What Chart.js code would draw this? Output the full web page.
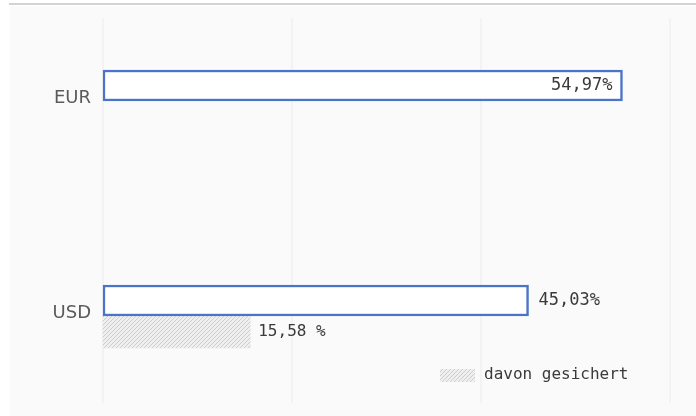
<!DOCTYPE html>
<html><head><meta charset="utf-8">
<script src="https://cdn.jsdelivr.net/npm/chart.js@4"></script>
<style>
html,body{margin:0;padding:0;background:#fff;width:696px;height:416px;overflow:hidden}
#wrap{position:relative;width:696px;height:416px}
#topline{position:absolute;left:9px;top:3px;width:687px;height:2px;background:#d3d3d3}
#panel{position:absolute;left:10px;top:6px;right:0;bottom:0;background:#fafafa}
canvas{position:absolute;left:0;top:0}
</style></head><body>
<div id="wrap"><div id="topline"></div><div id="panel"></div><canvas id="c" width="696" height="416"></canvas></div>
<script>
const categories = ['EUR', 'USD'];
const shareValues = [54.97, 45.03];
const hedgedValues = [null, 15.58];
const seriesNames = ['Anteil', 'davon gesichert'];
const labelSuffixes = ['%', ' %'];
const xMin = 0, xMax = 60, xStep = 20;

function makeHatch() {
  const c = document.createElement('canvas');
  c.width = 4; c.height = 4;
  const g = c.getContext('2d');
  g.fillStyle = '#efefef'; g.fillRect(0, 0, 4, 4);
  g.strokeStyle = '#cdcdcd'; g.lineWidth = 1;
  g.beginPath();
  g.moveTo(-1, 5); g.lineTo(5, -1);
  g.moveTo(-1, 1); g.lineTo(1, -1);
  g.moveTo(3, 5); g.lineTo(5, 3);
  g.stroke();
  return g.createPattern(c, 'repeat');
}
const hatch = makeHatch();

const gridPlugin = {
  id: 'panelGrid',
  beforeDatasetsDraw(chart) {
    const xs = chart.scales.x, ctx = chart.ctx;
    ctx.save();
    ctx.strokeStyle = '#f3f3f3';
    ctx.lineWidth = 2;
    xs.ticks.forEach(t => {
      const px = Math.round(xs.getPixelForValue(t.value));
      ctx.beginPath(); ctx.moveTo(px, 18); ctx.lineTo(px, 403); ctx.stroke();
    });
    ctx.restore();
  }
};

const valueLabelPlugin = {
  id: 'valueLabels',
  afterDatasetsDraw(chart) {
    const ctx = chart.ctx, area = chart.chartArea;
    ctx.save();
    chart.data.datasets.forEach((ds, di) => {
      const meta = chart.getDatasetMeta(di);
      const size = di === 0 ? 17 : 16;
      ctx.font = size + 'px "DejaVu Sans Mono", monospace';
      ctx.fillStyle = '#3a3a3a';
      ctx.textBaseline = 'middle';
      meta.data.forEach((bar, i) => {
        const v = ds.data[i];
        if (v === null || v === undefined) return;
        const txt = v.toFixed(2).replace('.', ',') + labelSuffixes[di];
        const w = ctx.measureText(txt).width;
        if (bar.x + 10 + w > area.right) {
          ctx.textAlign = 'right';
          ctx.fillText(txt, bar.x - 10, bar.y);
        } else {
          ctx.textAlign = 'left';
          ctx.fillText(txt, bar.x + (di === 0 ? 10 : 8), bar.y);
        }
      });
    });
    ctx.restore();
  }
};

const legendPlugin = {
  id: 'hedgeLegend',
  afterDraw(chart) {
    const ctx = chart.ctx;
    ctx.save();
    ctx.fillStyle = hatch;
    ctx.fillRect(440, 369, 35, 13);
    ctx.font = '16px "DejaVu Sans Mono", monospace';
    ctx.fillStyle = '#3a3a3a';
    ctx.textBaseline = 'middle';
    ctx.textAlign = 'left';
    ctx.fillText(chart.data.datasets[1].label, 484, 375);
    ctx.restore();
  }
};

new Chart(document.getElementById('c'), {
  type: 'bar',
  data: {
    labels: categories,
    datasets: [
      { label: seriesNames[0], data: shareValues, backgroundColor: '#ffffff', borderColor: '#4a74c8', borderWidth: 2.5, borderSkipped: false, barThickness: 31, clip: false },
      { label: seriesNames[1], data: hedgedValues, backgroundColor: hatch, borderWidth: 0, barThickness: 32, clip: false }
    ]
  },
  options: {
    indexAxis: 'y',
    responsive: false,
    animation: false,
    devicePixelRatio: 1,
    layout: { padding: { top: 101, bottom: 100, left: 0, right: 26 } },
    plugins: { legend: { display: false }, tooltip: { enabled: false } },
    scales: {
      x: { display: false, min: xMin, max: xMax, ticks: { stepSize: xStep }, grid: { display: false } },
      y: {
        offset: false,
        grid: { display: false, drawTicks: false },
        border: { display: false },
        ticks: { padding: 12, labelOffset: -3, color: '#5a5a5a', font: { family: 'DejaVu Sans', size: 18 } },
        afterFit(scale) { scale.width = 103; }
      }
    }
  },
  plugins: [gridPlugin, valueLabelPlugin, legendPlugin]
});
</script>
</body></html>
